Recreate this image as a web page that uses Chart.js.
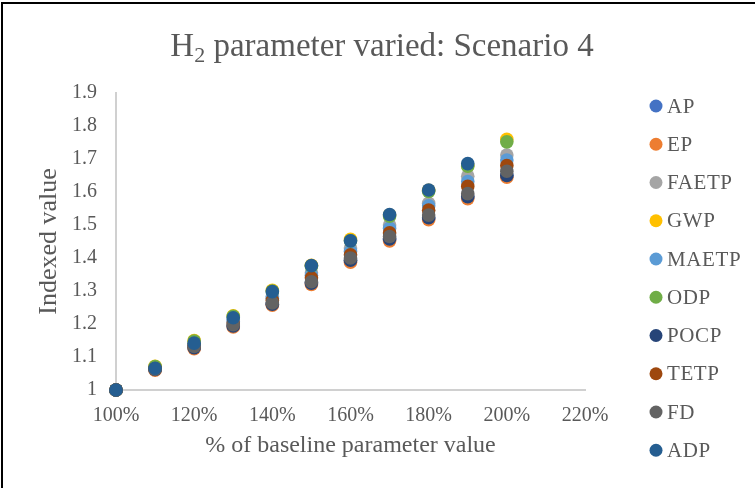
<!DOCTYPE html>
<html>
<head>
<meta charset="utf-8">
<script src="https://cdn.jsdelivr.net/npm/chart.js@4"></script>
<style>
  html, body { margin: 0; padding: 0; background: #fff; overflow: hidden; }
  #wrap { position: absolute; left: 0; top: 0; width: 755px; height: 488px; }
  #frame { position: absolute; left: 1px; top: 2px; width: 800px; height: 600px; border: 2px solid #000; box-sizing: border-box; pointer-events: none; }
  canvas { position: absolute; left: 0; top: 0; }
</style>
</head>
<body>
<div id="wrap">
  <canvas id="c" width="755" height="488"></canvas>
  <div id="frame"></div>
</div>
<script>
// ---- Data ----
const xValues = [1.0, 1.1, 1.2, 1.3, 1.4, 1.5, 1.6, 1.7, 1.8, 1.9, 2.0];
const seriesNames = ["AP", "EP", "FAETP", "GWP", "MAETP", "ODP", "POCP", "TETP", "FD", "ADP"];
const AP    = [1, 1.062, 1.128, 1.194, 1.260, 1.325, 1.392, 1.457, 1.521, 1.585, 1.649];
const EP    = [1, 1.060, 1.125, 1.191, 1.257, 1.320, 1.387, 1.452, 1.516, 1.580, 1.645];
const FAETP = [1, 1.068, 1.140, 1.212, 1.283, 1.355, 1.430, 1.500, 1.566, 1.648, 1.712];
const GWP   = [1, 1.072, 1.150, 1.225, 1.302, 1.378, 1.457, 1.530, 1.605, 1.680, 1.760];
const MAETP = [1, 1.067, 1.137, 1.208, 1.278, 1.348, 1.420, 1.490, 1.558, 1.632, 1.697];
const ODP   = [1, 1.071, 1.148, 1.223, 1.300, 1.375, 1.452, 1.527, 1.602, 1.678, 1.752];
const POCP  = [1, 1.062, 1.128, 1.194, 1.260, 1.324, 1.393, 1.458, 1.522, 1.586, 1.650];
const TETP  = [1, 1.065, 1.135, 1.203, 1.272, 1.340, 1.410, 1.476, 1.545, 1.617, 1.680];
const FD    = [1, 1.063, 1.132, 1.198, 1.264, 1.328, 1.400, 1.465, 1.530, 1.595, 1.663];
const ADP   = [1, 1.066, 1.142, 1.219, 1.298, 1.377, 1.452, 1.532, 1.606, 1.686, null];
const seriesValues = [AP, EP, FAETP, GWP, MAETP, ODP, POCP, TETP, FD, ADP];
const seriesColors = ["#4472C4", "#ED7D31", "#A5A5A5", "#FFC000", "#5B9BD5", "#70AD47", "#264478", "#9E480E", "#636363", "#255E91"];
const xTickLabels = ["100%", "120%", "140%", "160%", "180%", "200%", "220%"];
const yTickLabels = ["1", "1.1", "1.2", "1.3", "1.4", "1.5", "1.6", "1.7", "1.8", "1.9"];
const titleMain = "H";
const titleSub = "2";
const titleRest = " parameter varied: Scenario 4";
const xTitle = "% of baseline parameter value";
const yTitle = "Indexed value";

// ---- Style ----
const FONT = "'Liberation Serif', 'Times New Roman', serif";
const TEXT = "#595959";

const datasets = seriesNames.map((name, i) => ({
  label: name,
  data: xValues.map((x, j) => ({ x: x, y: seriesValues[i][j] })),
  backgroundColor: seriesColors[i],
  borderColor: seriesColors[i],
  pointRadius: 6.8,
  pointHoverRadius: 6.8,
  pointBorderWidth: 0,
  showLine: false,
  clip: false,
  order: seriesNames.length - 1 - i
}));

const overlay = {
  id: 'overlay',
  afterDraw(chart) {
    const ctx = chart.ctx;
    ctx.save();
    // Title with subscript
    ctx.fillStyle = TEXT;
    ctx.textBaseline = 'alphabetic';
    ctx.textAlign = 'left';
    const big = "33px " + FONT, small = "22px " + FONT;
    ctx.font = big; const w1 = ctx.measureText(titleMain).width; const w3 = ctx.measureText(titleRest).width;
    ctx.font = small; const w2 = ctx.measureText(titleSub).width;
    const total = w1 + w2 + w3;
    let x = 382 - total / 2; const base = 56;
    ctx.font = big; ctx.fillText(titleMain, x, base); x += w1;
    ctx.font = small; ctx.fillText(titleSub, x, base + 6); x += w2;
    ctx.font = big; ctx.fillText(titleRest, x, base);
    // Legend
    ctx.font = "21px " + FONT;
    if ('letterSpacing' in ctx) ctx.letterSpacing = '0.6px';
    ctx.textBaseline = 'middle';
    chart.data.datasets.forEach((ds, i) => {
      const cy = 106 + i * 38.25;
      ctx.beginPath();
      ctx.arc(656, cy, 6.5, 0, Math.PI * 2);
      ctx.fillStyle = ds.backgroundColor;
      ctx.fill();
      ctx.fillStyle = TEXT;
      ctx.fillText(ds.label, 667, cy + 1);
    });
    ctx.restore();
  }
};

new Chart(document.getElementById('c'), {
  type: 'scatter',
  data: { datasets },
  plugins: [overlay],
  options: {
    responsive: false,
    animation: false,
    events: [],
    layout: { padding: { top: 93, right: 170, bottom: 0, left: 0 } },
    plugins: { legend: { display: false }, title: { display: false }, tooltip: { enabled: false } },
    scales: {
      x: {
        type: 'linear', min: 1, max: 2.2,
        afterFit: s => { s.height = 98; },
        afterBuildTicks: s => { s.ticks = xTickLabels.map((t, i) => ({ value: 1 + i * 0.2 })); },
        ticks: {
          color: TEXT, font: { family: FONT, size: 20 }, padding: 14, maxRotation: 0, autoSkip: false,
          callback: (v, i) => xTickLabels[i]
        },
        grid: { display: false, drawTicks: false },
        border: { display: true, color: '#D0D0D0', width: 2 },
        title: { display: true, text: xTitle, color: TEXT, font: { family: FONT, size: 24 }, padding: { top: 0, bottom: 28 } }
      },
      y: {
        type: 'linear', min: 1, max: 1.9,
        afterFit: s => { s.width = 116; },
        afterBuildTicks: s => { s.ticks = yTickLabels.map((t, i) => ({ value: 1 + i * 0.1 })); },
        ticks: {
          color: TEXT, font: { family: FONT, size: 20 }, padding: 19, autoSkip: false,
          callback: (v, i) => yTickLabels[i]
        },
        grid: { display: false, drawTicks: false },
        border: { display: true, color: '#D0D0D0', width: 2 },
        title: { display: true, text: yTitle, color: TEXT, font: { family: FONT, size: 26 }, padding: { top: 34, bottom: 0 } }
      }
    }
  }
});
</script>
</body>
</html>
